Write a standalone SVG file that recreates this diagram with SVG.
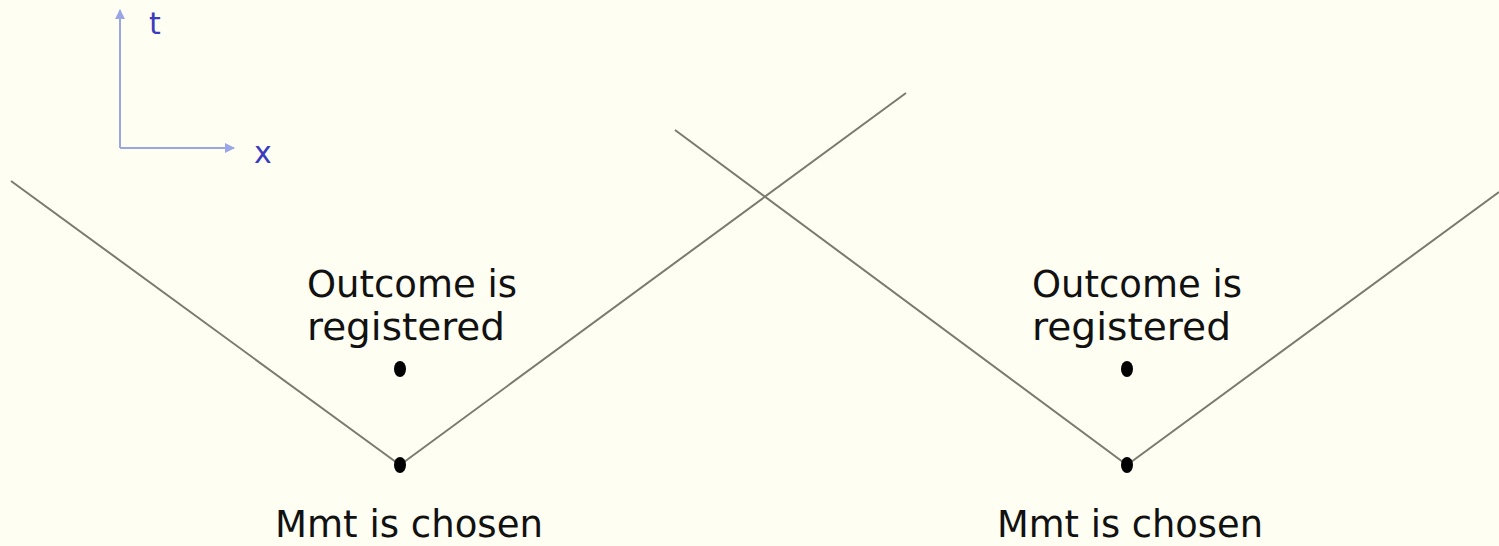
<svg xmlns="http://www.w3.org/2000/svg" width="1499" height="546" viewBox="0 0 1499 546">
<style>
.lbl{font-family:"DejaVu Sans",sans-serif;font-size:37px;fill:#111;text-anchor:start}
.ax{font-family:"DejaVu Sans",sans-serif;font-size:30px;fill:#3b3bbf;text-anchor:middle}
.cone{stroke:#7a7a6e;stroke-width:2;fill:none}
.axis{stroke:#9aa6e6;stroke-width:2;fill:none}
.dot{fill:#000}
</style>
<defs>
<marker id="ah" viewBox="0 0 10 10" refX="9" refY="5" markerWidth="5" markerHeight="5" orient="auto">
<path d="M0,0 L10,5 L0,10 z" fill="#9aa6e6"/>
</marker>
</defs>
<rect width="1499" height="546" fill="#fefef3"/>
<g id="axes">
<line class="axis" x1="120" y1="148" x2="120" y2="10" marker-end="url(#ah)"/>
<line class="axis" x1="120" y1="148" x2="234" y2="148" marker-end="url(#ah)"/>
<text class="ax" x="155" y="34">t</text>
<text class="ax" x="263" y="163">x</text>
</g>
<g id="connectors">
<line class="cone" x1="11" y1="181" x2="400" y2="465"/>
<line class="cone" x1="400" y1="465" x2="906" y2="93"/>
<line class="cone" x1="675" y1="130" x2="1127" y2="465"/>
<line class="cone" x1="1127" y1="465" x2="1499" y2="192"/>
</g>
<g id="left">
<text class="lbl" x="307" y="297" textLength="210" lengthAdjust="spacingAndGlyphs">Outcome is</text>
<text class="lbl" x="307" y="340" textLength="198" lengthAdjust="spacingAndGlyphs">registered</text>
<ellipse class="dot" cx="400" cy="369" rx="6" ry="8"/>
<ellipse class="dot" cx="400" cy="465" rx="6" ry="8"/>
<text class="lbl" x="275" y="537" textLength="268" lengthAdjust="spacingAndGlyphs">Mmt is chosen</text>
</g>
<g id="right">
<text class="lbl" x="1032" y="297" textLength="210" lengthAdjust="spacingAndGlyphs">Outcome is</text>
<text class="lbl" x="1032" y="340" textLength="199" lengthAdjust="spacingAndGlyphs">registered</text>
<ellipse class="dot" cx="1127" cy="369" rx="6" ry="8"/>
<ellipse class="dot" cx="1127" cy="465" rx="6" ry="8"/>
<text class="lbl" x="997" y="537" textLength="266" lengthAdjust="spacingAndGlyphs">Mmt is chosen</text>
</g>
</svg>
